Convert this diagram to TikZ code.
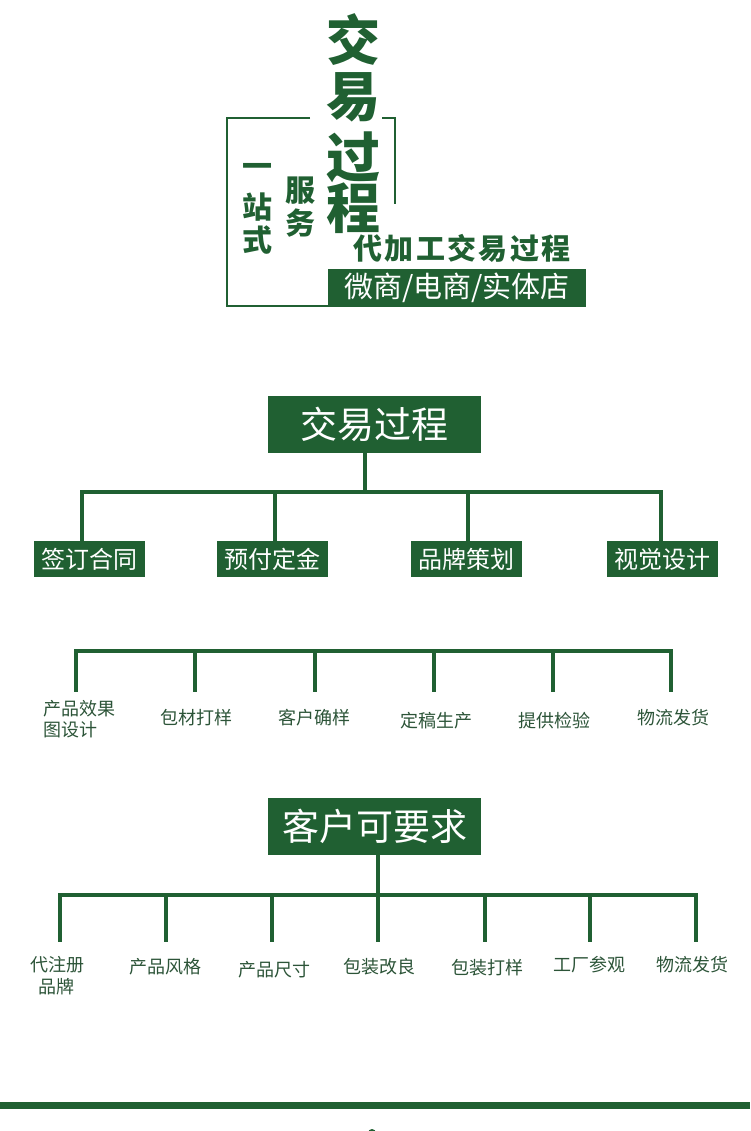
\documentclass[tikz,border=0pt]{standalone}
\usepackage{fontspec}
\newfontfamily\cjk{Noto Sans CJK SC}
\usetikzlibrary{positioning}
\definecolor{dkgreen}{RGB}{32,96,50}
\definecolor{leafgreen}{RGB}{44,84,56}

\begin{document}
\begin{tikzpicture}[
    x=1pt, y=-1pt,
    titlebox/.style={fill=dkgreen, text=white, font=\cjk\fontsize{37}{37}\selectfont, minimum width=213pt, minimum height=57pt, inner sep=0pt},
    stepbox/.style={fill=dkgreen, text=white, font=\cjk\fontsize{24}{24}\selectfont, minimum width=111pt, minimum height=36pt, inner sep=0pt},
    leaf/.style={text=leafgreen, font=\cjk\fontsize{18}{21}\selectfont, align=center, inner sep=0pt},
    callig/.style={text=dkgreen, font=\cjk\bfseries\fontsize{54}{54}\selectfont, inner sep=0pt},
    smallcallig/.style={text=dkgreen, font=\cjk\bfseries\fontsize{30}{30}\selectfont, inner sep=0pt},
    bus/.style={draw=dkgreen, line width=4pt, line cap=rect},
    framed/.style={draw=dkgreen, line width=2.5pt}
]
\useasboundingbox (0,0) rectangle (750,1131);

% header
\draw[framed] (310,118) -- (227,118) -- (227,306) -- (328,306);
\draw[framed] (382,118) -- (395,118) -- (395,204);

\node[callig] (h1) at (353,40) {交};
\node[callig] (h2) at (353,97) {易};
\node[callig] (h3) at (353,157) {过};
\node[callig] (h4) at (353,208) {程};

\node[smallcallig] (y1) at (257,170) {一};
\node[smallcallig] (y2) at (257,207) {站};
\node[smallcallig] (y3) at (257,240) {式};
\node[smallcallig] (f1) at (300,191) {服};
\node[smallcallig] (f2) at (300,223) {务};
\node[text=dkgreen, font=\cjk\bfseries\fontsize{29}{29}\selectfont, inner sep=0pt] (djg) at (462,248) {代\kern2.3pt加\kern2.3pt工\kern2.3pt交\kern2.3pt易\kern2.3pt过\kern2.3pt程};

\node[fill=dkgreen, text=white, font=\cjk\fontsize{29}{29}\selectfont, minimum width=258pt, minimum height=38pt, inner sep=0pt] (shop) at (457,288) {微商/电商/实体店};

% 交易过程
\node[titlebox] (jy) at (374,424) {交易过程};
\coordinate (ta0) at (365,492);
\foreach \x [count=\i] in {82,275,468,661}
    \coordinate (ta\i) at (\x,492);
\node[stepbox] (sa1) at (89,559) {签订合同};
\node[stepbox] (sa2) at (272,559) {预付定金};
\node[stepbox] (sa3) at (466,559) {品牌策划};
\node[stepbox] (sa4) at (662,559) {视觉设计};
\draw[bus] (jy.south -| ta0) -- (ta0);
\draw[bus] (ta1) -- (ta4);
\foreach \i in {1,...,4}
    \draw[bus] (ta\i) -- (ta\i |- sa\i.north);

% 流程
\foreach \x [count=\i] in {76,195,315,434,553,671} {
    \coordinate (tb\i) at (\x,651);
    \coordinate (eb\i) at (\x,690);
}
\draw[bus, line width=4.5pt] (tb1) -- (tb6);
\foreach \i in {1,...,6}
    \draw[bus, line width=4.5pt] (tb\i) -- (eb\i);
\node[leaf, align=left, anchor=west] (lb1) at (43,719) {产品效果\\图设计};
\node[leaf] (lb2) at (196,718) {包材打样};
\node[leaf] (lb3) at (314,718) {客户确样};
\node[leaf] (lb4) at (436,721) {定稿生产};
\node[leaf] (lb5) at (554,721) {提供检验};
\node[leaf] (lb6) at (673,718) {物流发货};

% 客户可要求
\node[titlebox] (kh) at (374.5,826) {客户可要求};
\coordinate (tc0) at (378,895);
\foreach \x [count=\i] in {60,166,272,378,485,590,696} {
    \coordinate (tc\i) at (\x,895);
    \coordinate (ec\i) at (\x,940);
}
\draw[bus] (kh.south -| tc0) -- (tc0);
\draw[bus] (tc1) -- (tc7);
\foreach \i in {1,...,7}
    \draw[bus] (tc\i) -- (ec\i);
\node[leaf, font=\cjk\fontsize{18}{22}\selectfont] (lc1) at (57,976) {代注册\\品牌};
\node[leaf] (lc2) at (165,967) {产品风格};
\node[leaf] (lc3) at (274,970) {产品尺寸};
\node[leaf] (lc4) at (379,967) {包装改良};
\node[leaf] (lc5) at (487,968) {包装打样};
\node[leaf] (lc6) at (589,965) {工厂参观};
\node[leaf] (lc7) at (692,965) {物流发货};

% footer
\fill[dkgreen] (0,1102) rectangle (750,1109);
\fill[dkgreen] (372,1133) circle (4);
\end{tikzpicture}
\end{document}
